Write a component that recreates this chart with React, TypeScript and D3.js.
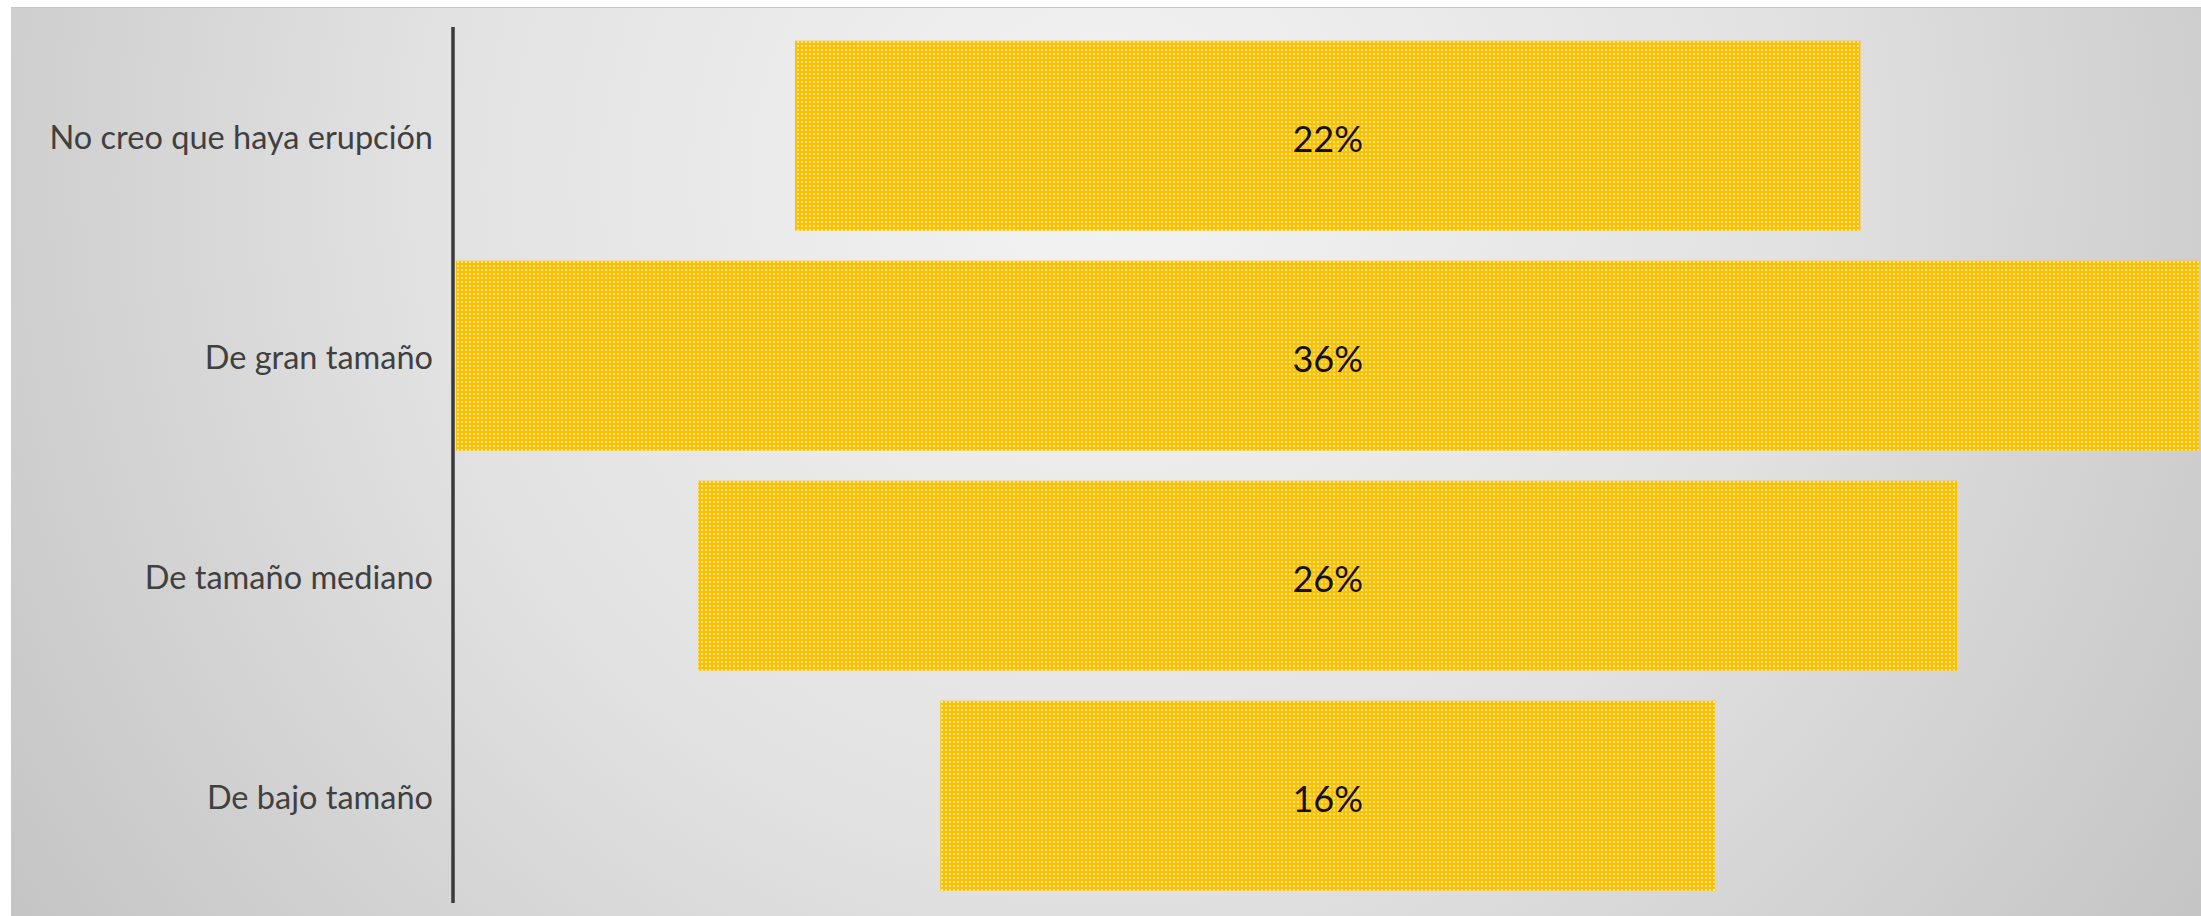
import React from "react";
import * as d3 from "d3";

// Datos del gráfico (embudo centrado)
const categories = [
  "No creo que haya erupción",
  "De gran tamaño",
  "De tamaño mediano",
  "De bajo tamaño",
];
const values = [22, 36, 26, 16];
const valueLabels = ["22%", "36%", "26%", "16%"];

const width = 2201;
const height = 916;
const font = "Lato, 'Liberation Sans', sans-serif";

const App = () => {
  const maxV = d3.max(values) as number;

  // Escala X centrada: cada barra va de -v/2 a +v/2
  const x = d3.scaleLinear().domain([-maxV / 2, maxV / 2]).range([456, 2199.4]);

  const y = d3
    .scaleBand<string>()
    .domain(categories)
    .range([25.7, 905.7])
    .paddingInner(30 / 220)
    .paddingOuter(15 / 220);

  const axisX = 453;

  return (
    <>
      <style>{"body{margin:0}"}</style>
      <svg width={width} height={height} style={{ display: "block" }}>
        <defs>
          <radialGradient
            id="bg"
            gradientUnits="userSpaceOnUse"
            cx={1105}
            cy={180}
            r={1350}
          >
            <stop offset="0" stopColor="#f3f3f3" />
            <stop offset="0.5" stopColor="#e2e2e2" />
            <stop offset="1" stopColor="#c3c3c3" />
          </radialGradient>
          <pattern id="dots" width={4} height={4} patternUnits="userSpaceOnUse">
            <rect width={4} height={4} fill="#FFC000" />
            <rect x={1} y={1} width={2} height={2} fill="#FFE07A" />
            <rect x={1.5} y={1.5} width={1} height={1} fill="#FFF4CC" />
          </pattern>
        </defs>

        <rect x={0} y={0} width={width} height={height} fill="#ffffff" />
        <rect x={11} y={7} width={width - 11} height={height - 7} fill="url(#bg)" />
        <line x1={11} x2={width} y1={7.5} y2={7.5} stroke="#c8c8c8" strokeWidth={1} />

        {/* Barras */}
        {categories.map((c, i) => (
          <rect
            key={c}
            x={x(-values[i] / 2)}
            y={y(c)}
            width={x(values[i] / 2) - x(-values[i] / 2)}
            height={y.bandwidth()}
            fill="url(#dots)"
          />
        ))}

        {/* Etiquetas de valor */}
        {categories.map((c, i) => (
          <text
            key={c + "-v"}
            x={x(0)}
            y={(y(c) as number) + y.bandwidth() / 2}
            dy="0.45em"
            textAnchor="middle"
            fontFamily={font}
            fontSize={36}
            fill="#111111"
          >
            {valueLabels[i]}
          </text>
        ))}

        {/* Eje vertical */}
        <line
          x1={axisX}
          x2={axisX}
          y1={27}
          y2={903}
          stroke="#3a3a3a"
          strokeWidth={3.5}
        />

        {/* Etiquetas de categoría */}
        {categories.map((c) => (
          <text
            key={c + "-l"}
            x={433}
            y={(y(c) as number) + y.bandwidth() / 2}
            dy="0.42em"
            textAnchor="end"
            fontFamily={font}
            fontSize={32.5}
            fill="#404040"
          >
            {c}
          </text>
        ))}
      </svg>
    </>
  );
};

export default App;
